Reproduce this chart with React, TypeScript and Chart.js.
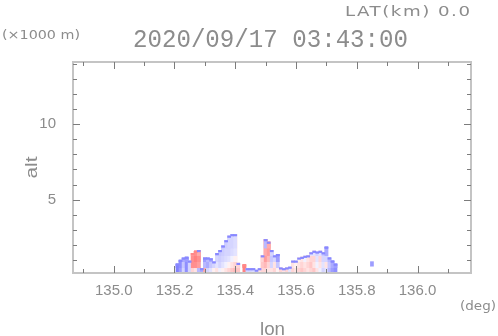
import React, { useEffect, useRef } from 'react';
import { Chart, registerables } from 'chart.js';

Chart.register(...registerables);

// ---- data ----
const lonBins = [
  135.21, 135.22, 135.23, 135.24, 135.25, 135.26, 135.27, 135.28, 135.29, 135.30,
  135.31, 135.32, 135.33, 135.34, 135.35, 135.36, 135.37, 135.38, 135.39, 135.40,
  135.41, 135.42, 135.43, 135.44, 135.45, 135.46, 135.47, 135.48, 135.49, 135.50,
  135.51, 135.52, 135.53, 135.54, 135.55, 135.56, 135.57, 135.58, 135.59, 135.60,
  135.61, 135.62, 135.63, 135.64, 135.65, 135.66, 135.67, 135.68, 135.69, 135.70,
  135.71, 135.72, 135.73,
];
// echo top altitude (km) per column
const topAlt = [
  0.75, 1.0, 1.15, 1.2, 0.95, 1.45, 1.6, 1.65, 0.45, 1.15,
  1.15, 1.1, 0.9, 1.45, 1.65, 1.95, 2.3, 2.6, 2.7, 2.7,
  0.8, null, 0.7, 0.45, 0.45, 0.45, 0.35, 0.45, 1.3, 2.37,
  2.2, 1.65, 1.3, 1.38, 0.5, 0.45, 0.5, 0.55, 0.95, 0.95,
  1.15, 1.2, 1.27, 1.3, 1.5, 1.6, 1.55, 1.6, 1.5, 1.87,
  1.16, 0.95, 0.75,
];
// layer base altitudes (km)
const layerBase = [0, 0.5, 0.9, 1.3, 1.8];
// velocity (negative = blue, positive = red), per layer per column
const velL0 = [
  -0.9, -0.7, -0.3, -0.8, -0.3, 0.3, 0.2, -0.5, -0.6, 0.6,
  -0.3, -0.2, 0.1, 0.2, -0.1, 0.1, 0.2, 0.3, 0.4, 0.5,
  0.4, null, 0.9, -0.3, -0.3, -0.25, -0.1, 0.2, 0.3, 0.3,
  0.2, 0.2, 0.3, 0.1, 0.3, 0.2, 0.3, -0.2, 0.3, 0.2,
  0.3, 0.4, 0.3, 0.2, 0.3, 0.4, 0.2, -0.1, -0.3, -0.2,
  -0.5, -0.7, -0.8,
];
const velL1 = [
  -0.9, -0.8, -0.4, -0.8, -0.3, 0.8, 0.8, 0.7, null, -0.5,
  -0.6, -0.4, -0.3, -0.2, -0.3, -0.2, -0.1, 0.1, 0.2, 0.3,
  0.3, null, 0.9, null, null, null, null, null, 0.4, 0.5,
  0.3, -0.3, 0.2, -0.4, null, null, null, -0.3, 0.2, 0.1,
  0.2, 0.3, 0.2, 0.3, 0.4, 0.2, -0.1, 0.2, -0.2, 0.2,
  -0.4, -0.6, -0.7,
];
const velL2 = [
  null, -0.6, -0.6, -0.7, -0.4, 0.8, 0.9, 0.8, null, -0.7,
  -0.5, -0.6, null, -0.3, -0.35, -0.3, -0.25, -0.2, -0.1, 0.1,
  null, null, null, null, null, null, null, null, 0.3, 0.7,
  0.5, -0.4, -0.3, -0.7, null, null, null, null, -0.3, -0.2,
  0.1, 0.2, -0.1, 0.2, 0.3, 0.3, -0.2, 0.3, -0.3, -0.3,
  -0.5, -0.7, null,
];
const velL3 = [
  null, null, null, null, null, 0.7, 0.8, 0.6, null, null,
  null, null, null, -0.4, -0.4, -0.35, -0.3, -0.3, -0.25, -0.2,
  null, null, null, null, null, null, null, null, null, 0.6,
  0.7, -0.3, null, -0.8, null, null, null, null, null, null,
  null, null, null, null, -0.2, -0.2, -0.3, -0.2, -0.4, -0.6,
  null, null, null,
];
const velL4 = [
  null, null, null, null, null, null, null, null, null, null,
  null, null, null, null, null, -0.4, -0.35, -0.3, -0.3, -0.25,
  null, null, null, null, null, null, null, null, null, -0.5,
  0.6, null, null, null, null, null, null, null, null, null,
  null, null, null, null, null, null, null, null, null, -0.8,
  null, null, null,
];
// isolated echo
const spotLon = [135.85];
const spotBase = [0.6];
const spotTop = [0.9];
const spotVel = [-0.7];

// axes
const lonMin = 134.866;
const lonMax = 136.176;
const altMin = 0.15;
const altMax = 14.1;
const lonMajorTicks = [135.0, 135.2, 135.4, 135.6, 135.8, 136.0];
const lonMinorTicks = [134.9, 135.1, 135.3, 135.5, 135.7, 135.9, 136.1];
const altMajorTicks = [5, 10];
const altMinorTicks = [1, 2, 3, 4, 6, 7, 8, 9, 11, 12, 13, 14];

const titleText = '2020/09/17 03:43:00';
const latText = 'LAT(km) 0.0';
const unitText = '(×1000 m)';
const xUnitText = '(deg)';
const xTitle = 'lon';
const yTitle = 'alt';

// ---- styles ----
const TEXT = '#8c8c8c';
const EDGE = 0.1;

function velColor(v: number) {
  const t = Math.min(1, Math.abs(v));
  const c = Math.round(255 - 140 * t);
  return v < 0 ? `rgb(${c},${c},255)` : `rgb(255,${c},${c})`;
}

function buildCells() {
  const cells: any[] = [];
  const colors: string[] = [];
  const layers = [velL0, velL1, velL2, velL3, velL4];
  layers.forEach((vel, k) => {
    lonBins.forEach((lon, i) => {
      const top = topAlt[i];
      const v = vel[i];
      if (top == null || v == null) return;
      cells.push({ x: lon, y: [layerBase[k], top] });
      colors.push(velColor(v));
    });
  });
  lonBins.forEach((lon, i) => {
    const top = topAlt[i];
    if (top == null) return;
    let tv = 0;
    for (const vel of layers) if (vel[i] != null) tv = vel[i] as number;
    cells.push({ x: lon, y: [top - EDGE, top] });
    colors.push(tv > 0.6 ? velColor(0.85) : velColor(-0.85));
  });
  spotLon.forEach((lon, i) => {
    cells.push({ x: lon, y: [spotBase[i], spotTop[i]] });
    colors.push(velColor(spotVel[i]));
  });
  return { cells, colors };
}

// draw text fitted to a target width: widen glyphs a little, then spread letters
function drawFit(ctx: any, text: string, x: number, y: number, font: string, width: number, maxScale = 1.3) {
  ctx.save();
  ctx.font = font;
  ctx.letterSpacing = '0px';
  ctx.textAlign = 'left';
  ctx.textBaseline = 'alphabetic';
  const w0 = ctx.measureText(text).width;
  const s = Math.min(maxScale, width / w0);
  const rest = width - w0 * s;
  const sp = rest / Math.max(1, text.length - 1) / s;
  ctx.translate(x, y);
  ctx.scale(s, 1);
  ctx.letterSpacing = sp.toFixed(2) + 'px';
  ctx.fillText(text, 0, 0);
  ctx.restore();
}

const framePlugin = {
  id: 'frameTicksTexts',
  afterDatasetsDraw(chart: any) {
    const { ctx, chartArea: a, scales } = chart;
    const xs = scales.x;
    const ys = scales.y;
    ctx.save();
    // frame
    ctx.strokeStyle = '#c4c4c4';
    ctx.lineWidth = 2;
    ctx.strokeRect(a.left, a.top, a.right - a.left, a.bottom - a.top);
    // ticks
    ctx.strokeStyle = '#7c7c7c';
    ctx.lineWidth = 1;
    const line = (x1: number, y1: number, x2: number, y2: number) => {
      ctx.beginPath();
      ctx.moveTo(x1, y1);
      ctx.lineTo(x2, y2);
      ctx.stroke();
    };
    const xt = (vals: number[], len: number) => vals.forEach((v) => {
      const p = Math.round(xs.getPixelForValue(v)) + 0.5;
      line(p, a.bottom, p, a.bottom - len);
      line(p, a.top, p, a.top + len);
    });
    const yt = (vals: number[], len: number) => vals.forEach((v) => {
      const p = Math.round(ys.getPixelForValue(v)) + 0.5;
      line(a.left, p, a.left + len, p);
      line(a.right, p, a.right - len, p);
    });
    xt(lonMajorTicks, 7);
    xt(lonMinorTicks, 4);
    yt(altMajorTicks, 7);
    yt(altMinorTicks, 4);
    // texts
    ctx.fillStyle = TEXT;
    drawFit(ctx, titleText, 133, 47, '25px "Liberation Mono"', 275);
    drawFit(ctx, latText, 345, 16, '14px "DejaVu Sans"', 125);
    drawFit(ctx, unitText, 2, 39, '12px "DejaVu Sans"', 78);
    drawFit(ctx, xUnitText, 460, 310, '13px "DejaVu Sans"', 36);
    drawFit(ctx, xTitle, 260, 335, '18px "Liberation Sans"', 25);
    ctx.save();
    ctx.translate(36.5, 178.5);
    ctx.rotate(-Math.PI / 2);
    drawFit(ctx, yTitle, 0, 0, '16px "Liberation Sans"', 22);
    ctx.restore();
    ctx.restore();
  },
};

export default function App() {
  const ref = useRef<HTMLCanvasElement>(null);
  useEffect(() => {
    if (!ref.current) return;
    const { cells, colors } = buildCells();
    const chart = new Chart(ref.current, {
      type: 'bar',
      data: {
        datasets: [
          {
            data: cells,
            backgroundColor: colors,
            borderWidth: 0,
            barPercentage: 1,
            categoryPercentage: 1,
          } as any,
        ],
      },
      options: {
        animation: false,
        responsive: false,
        events: [],
        layout: { padding: { left: 0, top: 62, right: 27, bottom: 0 } },
        plugins: { legend: { display: false }, tooltip: { enabled: false } },
        scales: {
          x: {
            type: 'linear',
            min: lonMin,
            max: lonMax,
            offset: false,
            grid: { display: false },
            border: { display: false },
            afterBuildTicks: (s: any) => {
              s.ticks = lonMajorTicks.map((v) => ({ value: v }));
            },
            afterFit: (s: any) => {
              s.height = 63;
            },
            ticks: {
              autoSkip: false,
              maxRotation: 0,
              padding: 1,
              color: TEXT,
              font: { family: 'Liberation Sans', size: 15 },
              callback: (v: any) => Number(v).toFixed(1),
            },
          },
          y: {
            type: 'linear',
            min: altMin,
            max: altMax,
            grid: { display: false },
            border: { display: false },
            afterBuildTicks: (s: any) => {
              s.ticks = altMajorTicks.map((v) => ({ value: v }));
            },
            afterFit: (s: any) => {
              s.width = 73;
            },
            ticks: {
              autoSkip: false,
              padding: 9,
              color: TEXT,
              font: { family: 'Liberation Sans', size: 15 },
              callback: (v: any) => String(v),
            },
          },
        },
      } as any,
      plugins: [framePlugin],
    });
    return () => chart.destroy();
  }, []);
  return (
    <div style={{ position: 'fixed', left: 0, top: 0, width: 498, height: 336, background: '#fff' }}>
      <canvas ref={ref} width={498} height={336} style={{ width: 498, height: 336, display: 'block' }} />
    </div>
  );
}
